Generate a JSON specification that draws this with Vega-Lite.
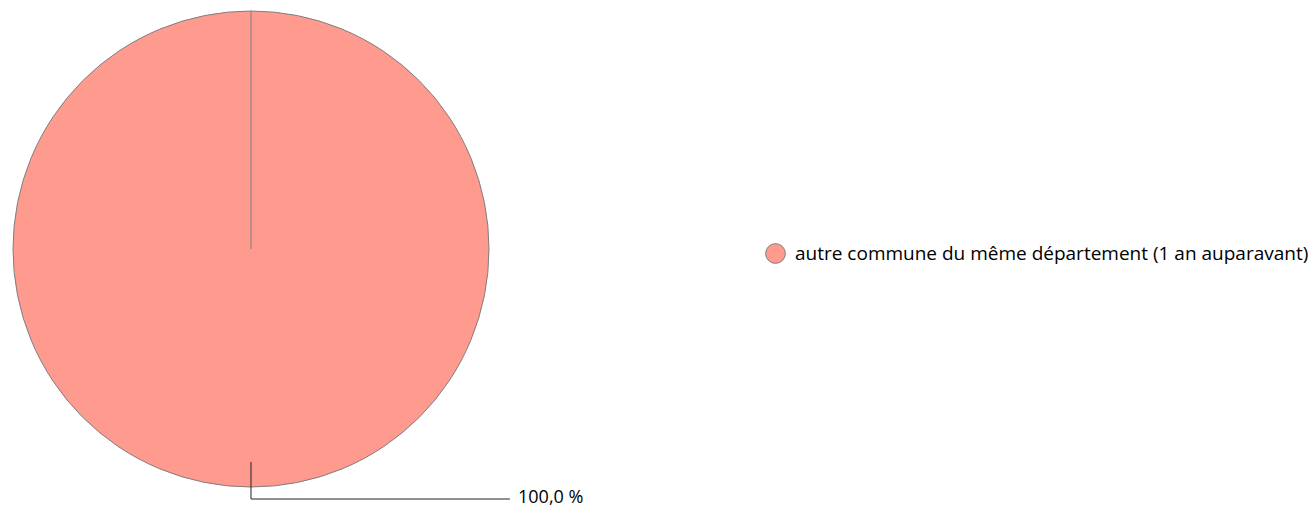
{
  "$schema": "https://vega.github.io/schema/vega-lite/v6.json",
  "width": 1315,
  "height": 509,
  "padding": 0,
  "autosize": "none",
  "background": "#ffffff",
  "config": {"view": {"stroke": null}},
  "datasets": {
    "parts": [{"categorie": "autre commune du même département (1 an auparavant)", "part": 100.0, "cx": 0, "cy": 0}],
    "rayon": [{"x": 0, "y": 0, "x2": 0, "y2": 1}],
    "guide": [
      {"ordre": 1, "x": 0, "y": -0.895},
      {"ordre": 2, "x": 0, "y": -1.0504},
      {"ordre": 3, "x": 1.088, "y": -1.0504}
    ],
    "etiquette": [{"x": 1.122, "y": -1.0504, "texte": "100,0 %"}]
  },
  "layer": [
    {
      "data": {"name": "parts"},
      "mark": {"type": "arc", "radius": 238, "stroke": "#7f7f7f", "strokeWidth": 1},
      "encoding": {
        "theta": {"field": "part", "type": "quantitative"},
        "x": {"field": "cx", "type": "quantitative", "scale": {"domain": [-1.0546, 4.4706], "nice": false, "zero": false}, "axis": null},
        "y": {"field": "cy", "type": "quantitative", "scale": {"domain": [-1.0924, 1.0462], "nice": false, "zero": false}, "axis": null},
        "color": {
          "field": "categorie",
          "type": "nominal",
          "scale": {"range": ["#FF9A8F"]},
          "legend": {
            "title": null,
            "orient": "none",
            "legendX": 765,
            "legendY": 243,
            "padding": 0,
            "symbolType": "circle",
            "symbolSize": 390,
            "symbolStrokeColor": "#7f7f7f",
            "symbolStrokeWidth": 1,
            "symbolOpacity": 1,
            "labelFont": "Open Sans",
            "labelFontSize": 19,
            "labelColor": "#000000",
            "labelOffset": 9,
            "labelLimit": 700
          }
        }
      }
    },
    {
      "data": {"name": "rayon"},
      "mark": {"type": "rule", "stroke": "#7f7f7f", "strokeWidth": 1},
      "encoding": {
        "x": {"field": "x", "type": "quantitative"},
        "y": {"field": "y", "type": "quantitative"},
        "x2": {"field": "x2"},
        "y2": {"field": "y2"}
      }
    },
    {
      "data": {"name": "guide"},
      "mark": {"type": "line", "stroke": "#222222", "strokeWidth": 1},
      "encoding": {
        "x": {"field": "x", "type": "quantitative"},
        "y": {"field": "y", "type": "quantitative"},
        "order": {"field": "ordre"}
      }
    },
    {
      "data": {"name": "etiquette"},
      "mark": {"type": "text", "align": "left", "baseline": "middle", "dy": -1, "font": "Open Sans", "fontSize": 18, "color": "#000000"},
      "encoding": {
        "x": {"field": "x", "type": "quantitative"},
        "y": {"field": "y", "type": "quantitative"},
        "text": {"field": "texte"}
      }
    }
  ]
}
